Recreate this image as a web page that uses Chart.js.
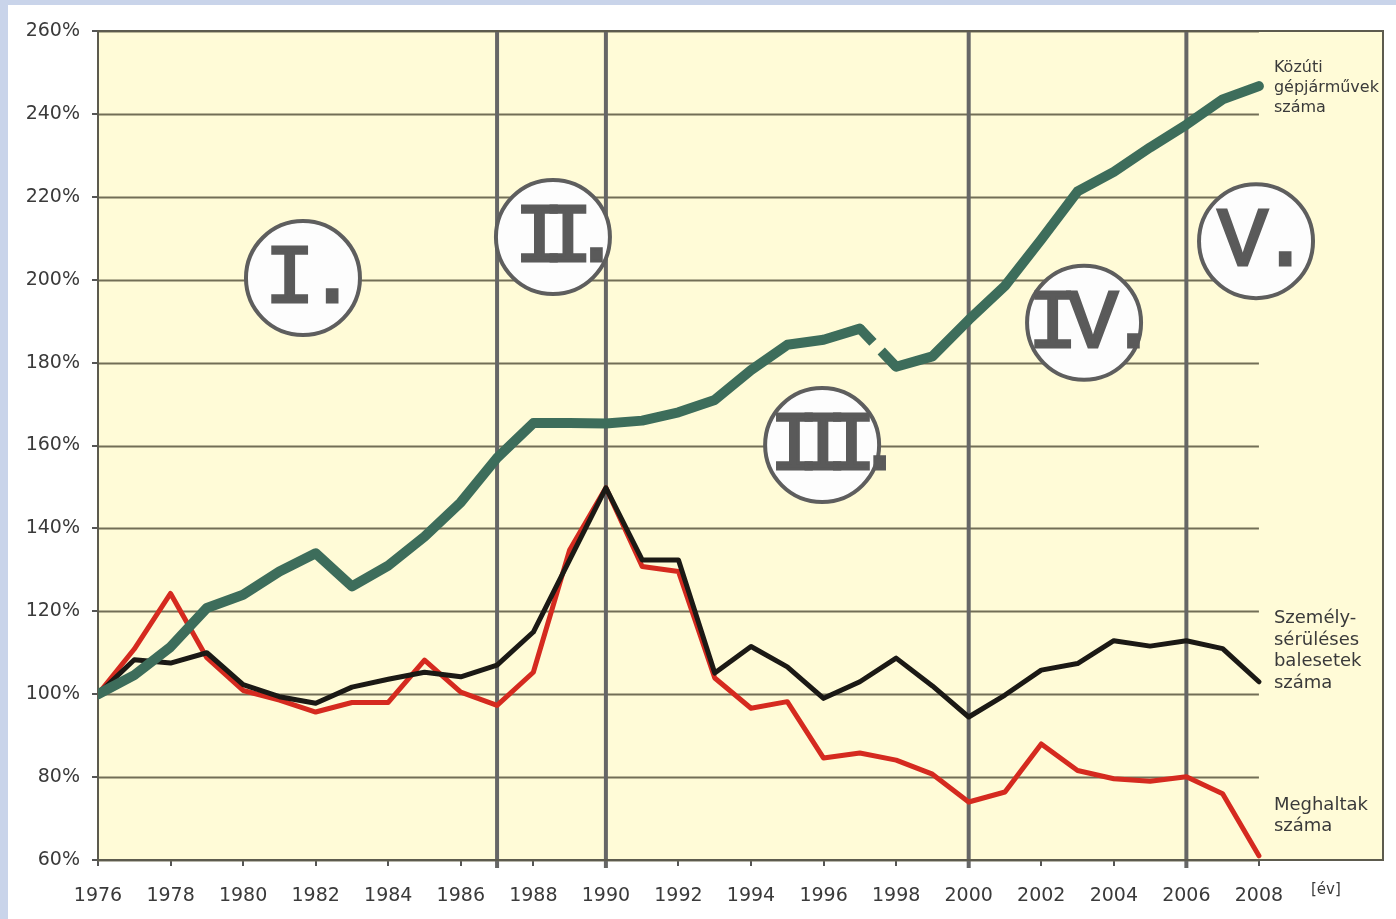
<!DOCTYPE html>
<html>
<head>
<meta charset="utf-8">
<script src="https://cdn.jsdelivr.net/npm/chart.js@4/dist/chart.umd.min.js"></script>
<style>
  body { margin: 0; background: #c9d4ea; }
  #wrap { position: absolute; left: 8px; top: 5px; width: 1388px; height: 914px; background: #ffffff; }
</style>
</head>
<body>
<div id="wrap"><canvas id="trendChart" width="1388" height="914"></canvas></div>
<script>
// years on the x axis
const years = [1976,1977,1978,1979,1980,1981,1982,1983,1984,1985,1986,1987,1988,1989,1990,1991,
               1992,1993,1994,1995,1996,1997,1998,1999,2000,2001,2002,2003,2004,2005,2006,2007,2008];

// Közúti gépjárművek száma (%)
const vehicles = [100,104.6,111.4,120.8,124,129.6,134,126,131,138,146.3,157,165.4,165.4,165.3,166,
                  168,171,178.2,184.3,185.5,188.2,179,181.5,190.3,198.5,209.7,221.3,226,231.9,237.4,243.5,246.7];

// Személysérüléses balesetek száma (%)
const accidents = [100,108.3,107.5,110,102.3,99.4,97.8,101.7,103.6,105.3,104.2,107,115,132.4,149.8,132.4,
                   132.4,105.1,111.5,106.6,99,103,108.7,102,94.5,99.8,105.8,107.4,112.9,111.6,112.9,111,103];

// Meghaltak száma (%)
const deaths = [100,110.9,124.3,108.8,100.9,98.6,95.7,98,98,108.2,100.5,97.3,105.3,134.8,149.8,130.8,
                129.6,103.9,96.6,98.2,84.6,85.8,84.1,80.7,74,76.4,88,81.6,79.6,79,80.1,76,61];

const periodYears = [1987, 1990, 2000, 2006];
const periodNames = ['I.', 'II.', 'III.', 'IV.', 'V.'];
const yTicks = [60, 80, 100, 120, 140, 160, 180, 200, 220, 240, 260];

const toPoints = arr => arr.map((v, i) => ({ x: years[i], y: v }));

// where the roman numeral badges sit (year, percent)
const badgeAnchors = [[1981.65, 200.4], [1988.54, 210.3], [1995.96, 160.1], [2003.18, 189.6], [2007.92, 209.3]];
const badgeSpacing = [-8, -22, -22, -10, -8];

const decorations = {
    id: 'decorations',
    beforeDatasetsDraw(chart) {
        const { ctx, chartArea: a, scales: { x, y } } = chart;
        const xEnd = x.getPixelForValue(2008);
        ctx.save();
        ctx.fillStyle = '#fffbd7';
        ctx.fillRect(a.left, a.top, a.right - a.left, a.bottom - a.top);

        // horizontal grid lines, stop at 2008
        ctx.strokeStyle = '#726e56';
        ctx.lineWidth = 2;
        yTicks.forEach(v => {
            const py = Math.round(y.getPixelForValue(v)) + 0.5;
            ctx.beginPath();
            ctx.moveTo(a.left, py);
            ctx.lineTo(xEnd, py);
            ctx.stroke();
        });

        // period separators
        ctx.strokeStyle = '#666666';
        ctx.lineWidth = 4;
        periodYears.forEach(yr => {
            const px = x.getPixelForValue(yr);
            ctx.beginPath();
            ctx.moveTo(px, a.top);
            ctx.lineTo(px, a.bottom + 8);
            ctx.stroke();
        });

        // frame
        ctx.strokeStyle = '#5d5b4e';
        ctx.lineWidth = 2;
        ctx.strokeRect(a.left, a.top, a.right - a.left, a.bottom - a.top);

        // badges
        periodNames.forEach((name, i) => {
            const cx = x.getPixelForValue(badgeAnchors[i][0]);
            const cy = y.getPixelForValue(badgeAnchors[i][1]);
            ctx.beginPath();
            ctx.arc(cx, cy, 57, 0, Math.PI * 2);
            ctx.fillStyle = '#fdfdfd';
            ctx.fill();
            ctx.strokeStyle = '#5e5e5e';
            ctx.lineWidth = 4;
            ctx.stroke();
            ctx.fillStyle = '#5a5a5a';
            ctx.strokeStyle = '#5a5a5a';
            ctx.lineWidth = 3;
            ctx.lineJoin = 'miter';
            ctx.font = '84px "Liberation Mono"';
            ctx.letterSpacing = badgeSpacing[i] + 'px';
            ctx.textAlign = 'center';
            ctx.textBaseline = 'alphabetic';
            ctx.fillText(name, cx + 4, cy + 24);
            ctx.strokeText(name, cx + 4, cy + 24);
        });
        ctx.letterSpacing = '0px';
        ctx.restore();
    },
    afterDatasetsDraw(chart) {
        const { ctx, chartArea: a, scales: { x, y } } = chart;
        const tx = x.getPixelForValue(2008) + 15;
        ctx.save();
        ctx.fillStyle = '#3a3a3a';
        ctx.textAlign = 'left';
        ctx.textBaseline = 'middle';
        const block = (lines, topValue, size, lh) => {
            ctx.font = size + 'px "DejaVu Sans"';
            const y0 = y.getPixelForValue(topValue);
            lines.forEach((t, i) => ctx.fillText(t, tx, y0 + i * lh));
        };
        block(['Közúti', 'gépjárművek', 'száma'], 251.2, 16, 20);
        block(['Személy-', 'sérüléses', 'balesetek', 'száma'], 118.2, 18, 21.5);
        block(['Meghaltak', 'száma'], 73.2, 18, 21);
        ctx.font = '15px "DejaVu Sans"';
        ctx.fillText('[év]', x.getPixelForValue(2008) + 52, a.bottom + 30);
        ctx.restore();
    }
};

const ctx = document.getElementById('trendChart').getContext('2d');
const trendChart = new Chart(ctx, {
    type: 'line',
    data: {
        datasets: [
            {
                label: 'Meghaltak száma',
                data: toPoints(deaths),
                borderColor: '#d52a1f',
                borderWidth: 5,
                pointRadius: 0,
                borderJoinStyle: 'round',
                borderCapStyle: 'round',
                order: 3
            },
            {
                label: 'Személysérüléses balesetek száma',
                data: toPoints(accidents),
                borderColor: '#1b1915',
                borderWidth: 5,
                pointRadius: 0,
                borderJoinStyle: 'round',
                borderCapStyle: 'round',
                order: 2
            },
            {
                label: 'Közúti gépjárművek száma',
                data: toPoints(vehicles),
                borderColor: '#3d6d5b',
                borderWidth: 10,
                pointRadius: 0,
                borderJoinStyle: 'round',
                borderCapStyle: 'round',
                segment: {
                    // break in the series between 1997 and 1998
                    borderDash: c => c.p0.parsed.x === 1997 ? [19, 12, 200] : undefined,
                    borderCapStyle: c => c.p0.parsed.x === 1997 ? 'butt' : undefined
                },
                order: 1
            }
        ]
    },
    options: {
        responsive: false,
        devicePixelRatio: 1,
        animation: false,
        layout: { padding: { top: 26, right: 13, left: 0, bottom: 0 } },
        plugins: { legend: { display: false }, tooltip: { enabled: false } },
        scales: {
            x: {
                type: 'linear',
                min: 1976,
                max: 2011.42,
                border: { display: false },
                grid: {
                    drawOnChartArea: false,
                    tickLength: 6,
                    lineWidth: 2,
                    color: c => (c.tick && c.tick.value <= 2008) ? '#555555' : 'rgba(0,0,0,0)'
                },
                ticks: {
                    stepSize: 2,
                    autoSkip: false,
                    maxRotation: 0,
                    padding: 19,
                    color: '#3a3a3a',
                    font: { family: 'DejaVu Sans', size: 19 },
                    callback: v => (v <= 2008 && v % 2 === 0) ? String(v) : ''
                },
                afterFit: s => { s.height = 59; s.paddingRight = 0; s.paddingLeft = 0; }
            },
            y: {
                min: 60,
                max: 260,
                border: { display: false },
                grid: { drawOnChartArea: false, tickLength: 6, lineWidth: 2, color: '#555555' },
                ticks: {
                    stepSize: 20,
                    padding: 12,
                    color: '#3a3a3a',
                    font: { family: 'DejaVu Sans', size: 19 },
                    callback: v => v + '%'
                },
                afterFit: s => { s.width = 90; }
            }
        }
    },
    plugins: [decorations]
});
</script>
</body>
</html>
